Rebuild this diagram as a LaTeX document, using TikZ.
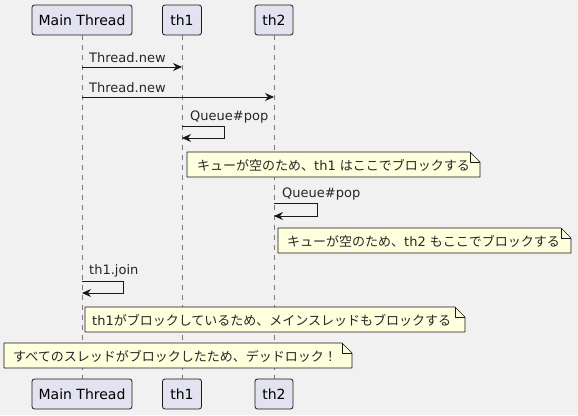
\documentclass[tikz,border=0pt]{standalone}
\usepackage{fontspec}
\setmainfont{DejaVu Sans}
\newfontfamily\jpfont{Noto Sans CJK JP}
\usetikzlibrary{arrows.meta}
\definecolor{bgc}{RGB}{241,241,241}
\definecolor{partfill}{RGB}{226,226,240}
\definecolor{notefill}{RGB}{254,255,221}
\definecolor{edgec}{RGB}{24,24,24}
\definecolor{lifec}{RGB}{120,120,120}
\newcommand{\jp}[1]{{\jpfont #1}}
\begin{document}
\begin{tikzpicture}[x=1pt,y=-1pt,
  part/.style={draw=edgec, fill=partfill, rounded corners=2.5pt, minimum height=30pt, inner sep=0pt, line width=0.8pt, font=\fontsize{14}{16}\selectfont},
  msg/.style={draw=edgec, line width=0.9pt, -{Stealth[length=9pt,width=8pt,inset=3pt]}},
  lbl/.style={anchor=base west, inner sep=0pt, font=\fontsize{13}{15}\selectfont, text=black!85},
  life/.style={draw=lifec, line width=0.6pt, dash pattern=on 5pt off 5pt},
  notebox/.style={draw=edgec, fill=notefill, line width=0.7pt, line join=round},
  notetext/.style={anchor=west, inner sep=0pt, font=\fontsize{13}{15}\selectfont, text=black!85}]
\fill[bgc] (0,0) rectangle (578,415);
\useasboundingbox (0,0) rectangle (578,415);

% participants
\node[part, minimum width=100pt] (mainT) at (82,20) {Main Thread};
\node[part, minimum width=39pt] (th1T) at (182,20) {th1};
\node[part, minimum width=38pt] (th2T) at (274,20) {th2};
\node[part, minimum width=100pt] (mainB) at (82,394) {Main Thread};
\node[part, minimum width=39pt] (th1B) at (182,394) {th1};
\node[part, minimum width=38pt] (th2B) at (274,394) {th2};

% lifelines
\draw[life] (mainT.south) -- (mainB.north);
\draw[life] (th1T.south) -- (th1B.north);
\draw[life] (th2T.south) -- (th2B.north);

% message 1
\coordinate (m1s) at (82,67);
\coordinate (m1e) at (182,67);
\draw[msg] (m1s) -- (m1e);
\node[lbl] (l1) at (89,62) {Thread.new};

% message 2
\coordinate (m2s) at (82,97);
\coordinate (m2e) at (274,97);
\draw[msg] (m2s) -- (m2e);
\node[lbl] (l2) at (89,92) {Thread.new};

% message 3 self th1
\coordinate (m3s) at (182,126);
\coordinate (m3e) at (182,138);
\draw[msg] (m3s) -- (224,126) -- (224,138) -- (m3e);
\node[lbl] (l3) at (190,120) {Queue\#pop};

% note 1
\draw[notebox] (187,152) -- (470,152) -- (480,162) -- (480,177) -- (187,177) -- cycle;
\draw[notebox, fill=none] (470,152) -- (470,162) -- (480,162);
\node[notetext] (n1) at (197,165) {\jp{キューが空のため、}th1 \jp{はここでブロックする}};

% message 4 self th2
\coordinate (m4s) at (274,203);
\coordinate (m4e) at (274,216);
\draw[msg] (m4s) -- (317,203) -- (317,216) -- (m4e);
\node[lbl] (l4) at (282,197) {Queue\#pop};

% note 2
\draw[notebox] (278,228) -- (561,228) -- (571,238) -- (571,253) -- (278,253) -- cycle;
\draw[notebox, fill=none] (561,228) -- (561,238) -- (571,238);
\node[notetext] (n2) at (287,241) {\jp{キューが空のため、}th2 \jp{もここでブロックする}};

% message 5 self main
\coordinate (m5s) at (82,281);
\coordinate (m5e) at (82,293);
\draw[msg] (m5s) -- (123,281) -- (123,293) -- (m5e);
\node[lbl] (l5) at (89,274) {th1.join};

% note 3
\draw[notebox] (85,307) -- (455,307) -- (465,317) -- (465,332) -- (85,332) -- cycle;
\draw[notebox, fill=none] (455,307) -- (455,317) -- (465,317);
\node[notetext] (n3) at (92,320) {th1\jp{がブロックしているため、メインスレッドもブロックする}};

% note 4
\draw[notebox] (4,343) -- (342,343) -- (352,353) -- (352,368) -- (4,368) -- cycle;
\draw[notebox, fill=none] (342,343) -- (342,353) -- (352,353);
\node[notetext] (n4) at (13,356) {\jp{すべてのスレッドがブロックしたため、デッドロック！}};
\end{tikzpicture}
\end{document}
